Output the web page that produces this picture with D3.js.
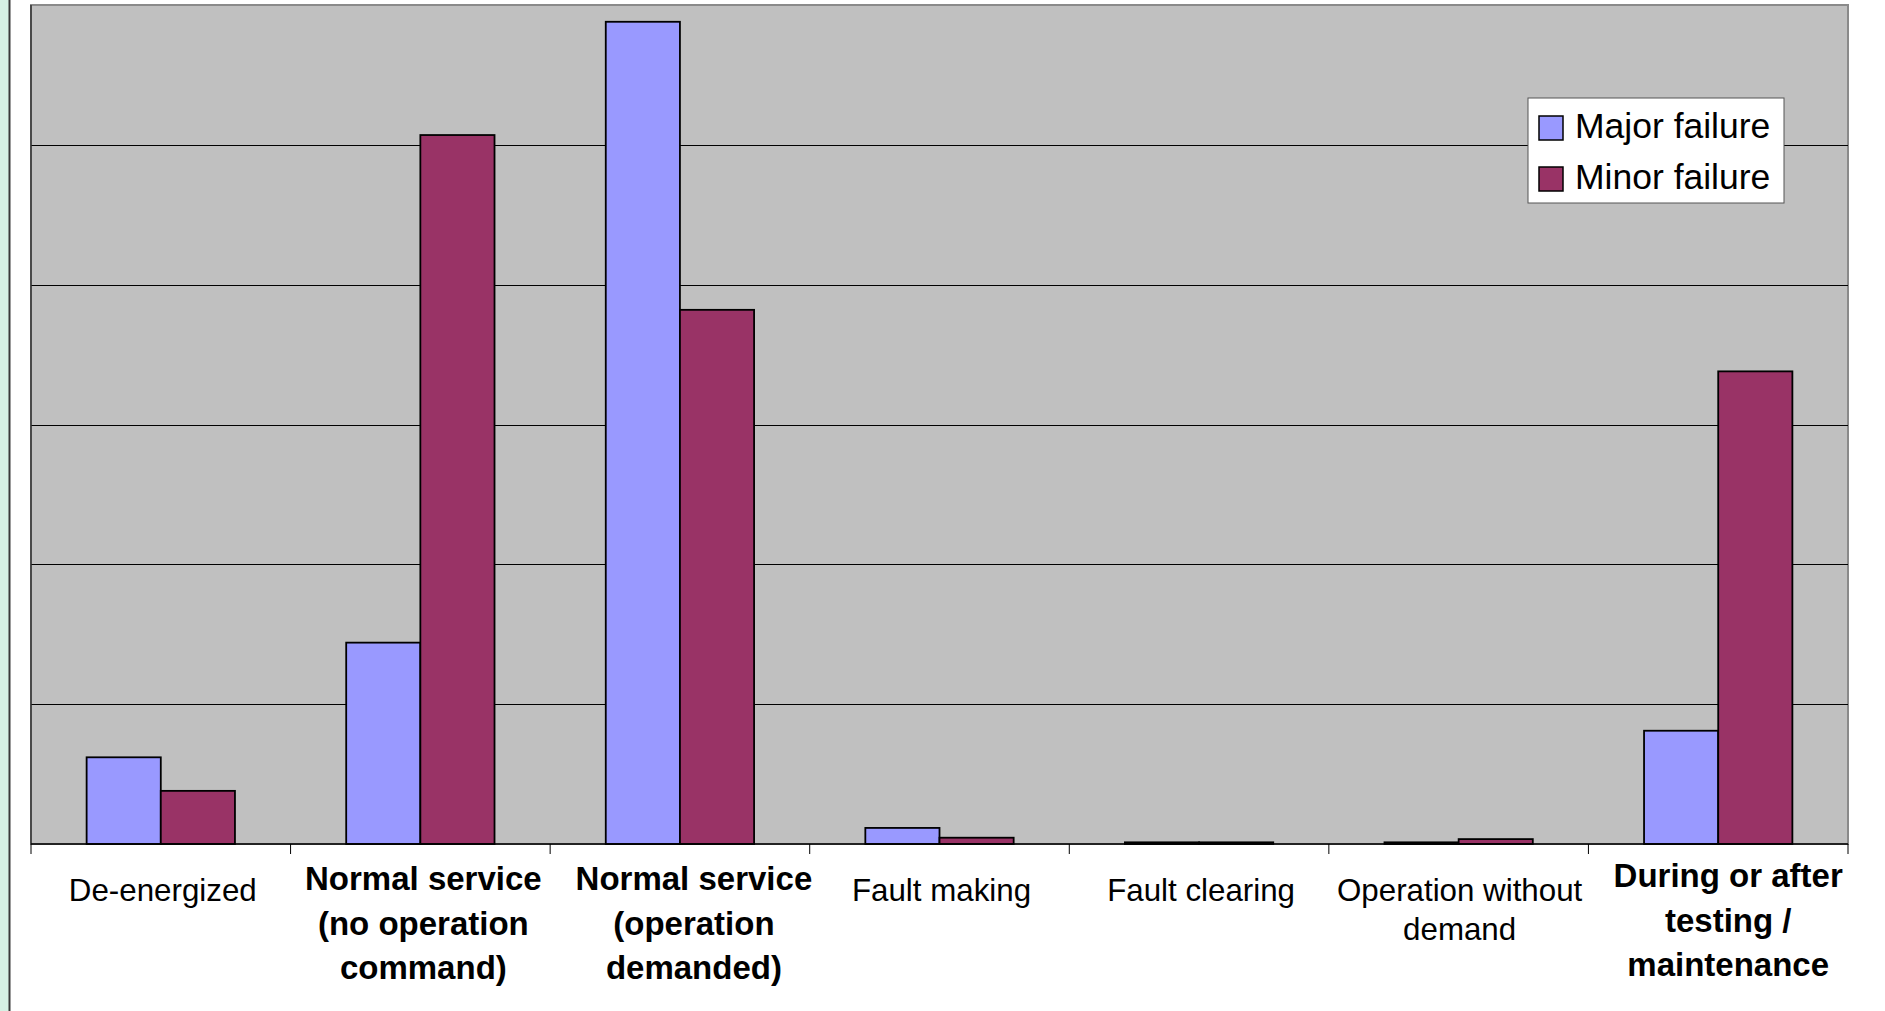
<!DOCTYPE html>
<html>
<head>
<meta charset="utf-8">
<script src="https://cdn.jsdelivr.net/npm/d3@7"></script>
<style>
  html, body { margin: 0; padding: 0; background: #ffffff; }
  svg { display: block; }
  text { font-family: "Liberation Sans", Arial, Helvetica, sans-serif; fill: #000; }
</style>
</head>
<body>
<svg id="chart" width="1885" height="1011"></svg>
<script>
// Operating condition at the time of failure
const categories = [
  "De-energized",
  "Normal service\n(no operation\ncommand)",
  "Normal service\n(operation\ndemanded)",
  "Fault making",
  "Fault clearing",
  "Operation without\ndemand",
  "During or after\ntesting /\nmaintenance"
];
// Categories whose labels are set in bold
const emphasized = [
  "Normal service\n(no operation\ncommand)",
  "Normal service\n(operation\ndemanded)",
  "During or after\ntesting /\nmaintenance"
];
const seriesNames = ["Major failure", "Minor failure"];
const majorFailure = [6.2, 14.4, 58.8, 1.15, 0.12, 0.12, 8.1];
const minorFailure = [3.8, 50.7, 38.2, 0.45, 0.12, 0.35, 33.8];
const gridTicks = [0, 10, 20, 30, 40, 50, 60];

const colors = { "Major failure": "#9999ff", "Minor failure": "#993366" };

const svg = d3.select("#chart");
const W = 1885, H = 1011;
const plot = { left: 31, right: 1848, top: 5, bottom: 844 };
// per-label nudges (px): labels sit slightly off the category centre
const labelShift = [2, 3, 14, 2, 2, 1, 10];
const labelLift = [0, 0, 0, 0, 0, 0, 3];

// slide edge decoration on the far left
svg.append("rect").attr("x", 0).attr("y", 0).attr("width", 9).attr("height", H).attr("fill", "#d6f1e4");
svg.append("line").attr("x1", 9.5).attr("x2", 9.5).attr("y1", 0).attr("y2", H)
  .attr("stroke", "#3a3a3a").attr("stroke-width", 2);

const x0 = d3.scaleBand().domain(categories).range([plot.left, plot.right]).paddingInner(0).paddingOuter(0);
const x1 = d3.scaleBand().domain(seriesNames).range([0, x0.bandwidth()]).paddingInner(0).paddingOuter(0.75);
const y = d3.scaleLinear().domain([0, 60]).range([plot.bottom, plot.top]);

// plot area
svg.append("rect")
  .attr("x", plot.left).attr("y", plot.top)
  .attr("width", plot.right - plot.left).attr("height", plot.bottom - plot.top)
  .attr("fill", "#c0c0c0").attr("stroke", "#8a8a8a").attr("stroke-width", 2);

// horizontal gridlines
svg.append("g").selectAll("line")
  .data(gridTicks.filter(t => t > 0 && t < 60))
  .join("line")
  .attr("x1", plot.left).attr("x2", plot.right)
  .attr("y1", d => Math.round(y(d)) + 0.5).attr("y2", d => Math.round(y(d)) + 0.5)
  .attr("stroke", "#000").attr("stroke-width", 1);

// left value axis line (no labels)
svg.append("line").attr("x1", plot.left).attr("x2", plot.left)
  .attr("y1", plot.top).attr("y2", plot.bottom).attr("stroke", "#333").attr("stroke-width", 1.5);

// bars
const rows = categories.map((c, i) => ({
  cat: c,
  vals: [
    { s: "Major failure", v: majorFailure[i] },
    { s: "Minor failure", v: minorFailure[i] }
  ]
}));

const groups = svg.append("g").selectAll("g")
  .data(rows).join("g")
  .attr("transform", d => `translate(${x0(d.cat)},0)`);

groups.selectAll("rect")
  .data(d => d.vals).join("rect")
  .attr("x", d => x1(d.s))
  .attr("y", d => y(d.v))
  .attr("width", x1.bandwidth())
  .attr("height", d => y(0) - y(d.v))
  .attr("fill", d => colors[d.s])
  .attr("stroke", "#000")
  .attr("stroke-width", 1.8);

// category axis: baseline plus ticks at the category boundaries
const axisG = svg.append("g").attr("transform", `translate(0,${plot.bottom})`);
const bounds = categories.map(c => x0(c)).concat([plot.right]);
axisG.selectAll("line.b").data(bounds).join("line")
  .attr("class", "b")
  .attr("x1", d => d).attr("x2", d => d).attr("y1", 0).attr("y2", 10)
  .attr("stroke", "#000").attr("stroke-width", 1);
axisG.append("line").attr("x1", plot.left).attr("x2", plot.right)
  .attr("y1", 0).attr("y2", 0).attr("stroke", "#000").attr("stroke-width", 1.5);

// category labels
const labels = svg.append("g").selectAll("text")
  .data(categories).join("text")
  .attr("text-anchor", "middle")
  .attr("y", (d, i) => (emphasized.includes(d) ? 890 : 901) - labelLift[i])
  .style("font-size", d => emphasized.includes(d) ? "33px" : "31.3px")
  .style("font-weight", d => emphasized.includes(d) ? "bold" : "normal");

labels.each(function(d, idx) {
  const bold = emphasized.includes(d);
  const cx = x0(d) + x0.bandwidth() / 2 + labelShift[idx];
  const t = d3.select(this);
  d.split("\n").forEach((line, i) => {
    t.append("tspan")
      .attr("x", cx)
      .attr("dy", i === 0 ? 0 : (bold ? 44.5 : 39))
      .text(line);
  });
});

// legend
const legend = svg.append("g").attr("transform", "translate(1528,98)");
legend.append("rect").attr("x", 0).attr("y", 0).attr("width", 256).attr("height", 105)
  .attr("fill", "#fff").attr("stroke", "#555").attr("stroke-width", 1);
const items = legend.selectAll("g.item").data(seriesNames).join("g")
  .attr("class", "item")
  .attr("transform", (d, i) => `translate(11,${18 + i * 51})`);
items.append("rect").attr("width", 24).attr("height", 24)
  .attr("fill", d => colors[d]).attr("stroke", "#000").attr("stroke-width", 1.5);
items.append("text").attr("x", 36).attr("y", 22)
  .style("font-size", "35.5px").text(d => d);
</script>
</body>
</html>
